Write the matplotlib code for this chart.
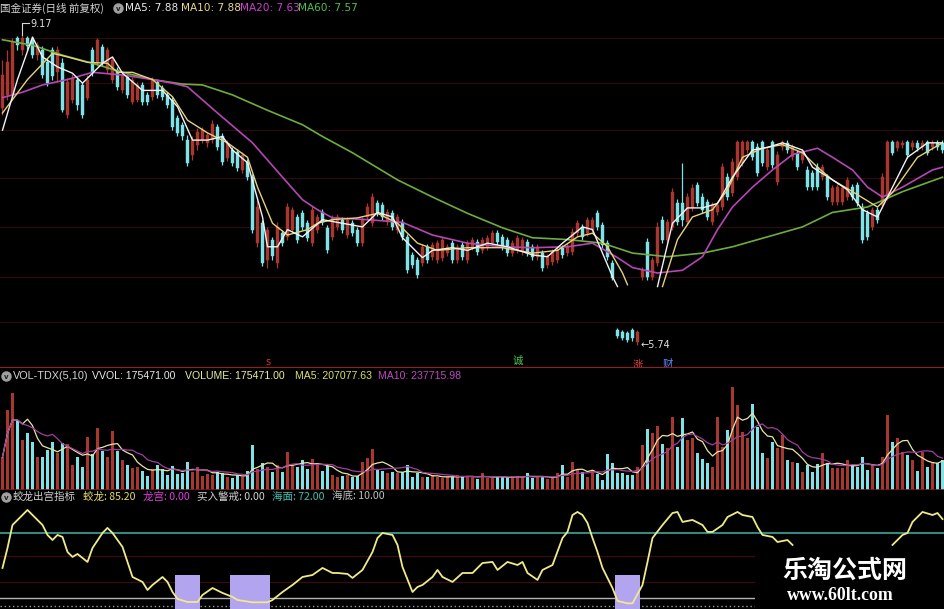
import numpy as np
import pandas as pd
import matplotlib
matplotlib.use("Agg")
import matplotlib.pyplot as plt
from matplotlib.patches import Rectangle
from matplotlib.lines import Line2D

plt.rcParams['font.family'] = ['Noto Sans CJK SC', 'DejaVu Sans']

# ---------------- data ----------------
opens = [
    8.37, 8.51, 8.51, 9.14, 9.01, 9.14, 9.12, 8.95, 9.01, 8.87,
    9.01, 8.76, 8.86, 8.29, 8.45, 8.68, 8.62, 8.48, 9.01, 8.86,
    9.04, 8.79, 8.68, 8.79, 8.56, 8.71, 8.43, 8.45, 8.62, 8.51,
    8.49, 8.65, 8.59, 8.51, 8.45, 8.25, 8.18, 8.01, 7.85, 7.96,
    8.01, 7.98, 8.01, 8.16, 8.05, 7.81, 7.90, 7.88, 7.68, 7.77,
    7.60, 6.87, 7.09, 6.68, 6.91, 6.65, 6.98, 6.94, 7.02, 7.16,
    7.20, 7.09, 6.87, 7.02, 7.21, 7.04, 6.94, 7.05, 7.13, 6.96,
    7.09, 7.02, 6.87, 7.16, 7.09, 7.31, 7.29, 7.10, 7.20, 7.02,
    7.10, 6.94, 6.74, 6.68, 6.65, 6.83, 6.72, 6.68, 6.71, 6.76,
    6.87, 6.68, 6.85, 6.68, 6.83, 6.88, 6.79, 6.83, 6.87, 6.98,
    6.94, 6.91, 6.76, 6.79, 6.77, 6.88, 6.83, 6.72, 6.76, 6.63,
    6.66, 6.68, 6.82, 6.76, 6.77, 6.98, 7.05, 6.98, 7.02, 7.20,
    7.07, 6.87, 6.65, 5.91, 5.89, 5.88, 5.91, 5.78, 6.50, 6.88,
    6.50, 6.65, 7.13, 6.91, 7.05, 7.31, 7.31, 7.10, 7.26, 7.51,
    7.38, 7.33, 7.10, 7.21, 7.27, 7.60, 7.43, 7.60, 7.76, 7.90,
    7.99, 7.93, 7.99, 7.71, 7.99, 7.55, 7.93, 7.98, 7.82, 7.87,
    7.79, 7.68, 7.65, 7.71, 7.60, 7.60, 7.33, 7.33, 7.33, 7.38,
    7.49, 7.51, 7.27, 7.20, 7.05, 7.24, 7.29, 7.38, 7.99, 7.92,
    7.96, 7.99, 7.93, 7.98, 7.93, 7.99, 7.93, 7.98, 7.98]
closes = [
    8.73, 8.87, 9.10, 9.06, 9.14, 9.05, 8.95, 9.06, 8.73, 8.64,
    8.72, 9.01, 8.34, 8.65, 8.70, 8.40, 8.29, 8.68, 8.75, 9.12,
    8.86, 9.01, 8.90, 8.60, 8.73, 8.51, 8.68, 8.62, 8.43, 8.43,
    8.68, 8.51, 8.49, 8.40, 8.16, 8.09, 8.05, 7.76, 8.01, 8.10,
    8.12, 8.07, 8.19, 7.93, 7.77, 7.98, 7.76, 7.70, 7.85, 7.60,
    7.02, 7.27, 6.65, 7.02, 6.73, 7.05, 6.87, 7.27, 7.24, 6.91,
    7.05, 6.93, 7.24, 7.16, 7.10, 6.79, 7.15, 7.16, 7.02, 7.13,
    6.98, 6.87, 7.13, 7.27, 7.38, 7.20, 7.16, 7.21, 7.05, 7.16,
    6.94, 6.57, 6.63, 6.52, 6.83, 6.68, 6.85, 6.87, 6.91, 6.83,
    6.68, 6.83, 6.72, 6.87, 6.91, 6.77, 6.91, 6.93, 6.98, 6.88,
    6.83, 6.76, 6.87, 6.93, 6.91, 6.76, 6.72, 6.83, 6.60, 6.72,
    6.77, 6.79, 6.74, 6.84, 6.99, 7.09, 6.94, 7.13, 7.13, 7.05,
    6.85, 6.72, 6.48, 5.84, 5.82, 5.80, 5.82, 5.89, 6.57, 6.50,
    6.68, 7.05, 6.91, 7.10, 7.44, 7.10, 7.13, 7.38, 7.48, 7.31,
    7.24, 7.16, 7.29, 7.29, 7.71, 7.38, 7.77, 7.99, 7.99, 7.99,
    7.82, 7.65, 7.76, 7.90, 7.73, 7.85, 7.99, 7.90, 7.93, 7.71,
    7.88, 7.49, 7.49, 7.49, 7.71, 7.38, 7.48, 7.49, 7.48, 7.57,
    7.38, 7.31, 6.91, 6.94, 7.24, 7.13, 7.60, 7.99, 7.87, 7.99,
    7.98, 7.85, 7.98, 7.92, 7.98, 7.87, 7.98, 7.93, 7.90]
highs = [
    8.90, 9.01, 9.14, 9.16, 9.17, 9.16, 9.15, 9.10, 9.05, 8.92,
    9.04, 9.05, 8.92, 8.70, 8.74, 8.72, 8.65, 8.73, 9.04, 9.14,
    9.07, 9.04, 8.93, 8.82, 8.76, 8.74, 8.71, 8.65, 8.65, 8.54,
    8.71, 8.68, 8.62, 8.54, 8.49, 8.29, 8.21, 8.07, 8.05, 8.14,
    8.16, 8.10, 8.23, 8.19, 8.09, 8.01, 7.93, 7.91, 7.88, 7.80,
    7.64, 7.35, 7.13, 7.05, 6.94, 7.10, 7.02, 7.31, 7.27, 7.19,
    7.24, 7.13, 7.28, 7.19, 7.25, 7.07, 7.18, 7.19, 7.16, 7.16,
    7.13, 7.05, 7.16, 7.31, 7.43, 7.35, 7.33, 7.25, 7.24, 7.19,
    7.14, 6.97, 6.77, 6.72, 6.86, 6.86, 6.88, 6.91, 6.94, 6.86,
    6.91, 6.86, 6.88, 6.91, 6.94, 6.92, 6.94, 6.96, 7.02, 7.02,
    6.97, 6.94, 6.91, 6.96, 6.94, 6.92, 6.86, 6.86, 6.79, 6.75,
    6.81, 6.83, 6.85, 6.87, 7.04, 7.13, 7.08, 7.16, 7.16, 7.24,
    7.10, 6.91, 6.68, 5.93, 5.91, 5.90, 5.93, 5.91, 6.61, 6.93,
    6.72, 7.10, 7.17, 7.14, 7.48, 7.36, 7.76, 7.43, 7.52, 7.55,
    7.42, 7.36, 7.33, 7.33, 7.76, 7.65, 7.81, 8.01, 8.01, 8.01,
    8.01, 7.98, 8.01, 7.93, 8.01, 7.89, 8.01, 8.01, 7.97, 7.90,
    7.91, 7.72, 7.68, 7.76, 7.75, 7.64, 7.51, 7.52, 7.51, 7.60,
    7.52, 7.55, 7.31, 7.24, 7.27, 7.27, 7.65, 8.01, 8.01, 8.01,
    8.01, 8.01, 8.01, 8.01, 8.01, 8.01, 8.01, 8.01, 8.01]
lows = [
    8.29, 8.45, 8.48, 9.01, 8.95, 9.01, 8.92, 8.90, 8.70, 8.61,
    8.68, 8.65, 8.32, 8.25, 8.42, 8.34, 8.25, 8.45, 8.72, 8.83,
    8.83, 8.75, 8.64, 8.56, 8.53, 8.48, 8.41, 8.43, 8.40, 8.40,
    8.45, 8.48, 8.45, 8.37, 8.12, 8.06, 8.01, 7.72, 7.79, 7.90,
    7.98, 7.93, 7.98, 7.90, 7.73, 7.78, 7.72, 7.67, 7.65, 7.57,
    6.98, 6.83, 6.62, 6.60, 6.68, 6.60, 6.84, 6.91, 6.98, 6.87,
    7.02, 6.89, 6.84, 6.98, 7.07, 6.76, 6.91, 7.02, 6.98, 6.93,
    6.95, 6.84, 6.84, 7.13, 7.06, 7.17, 7.13, 7.07, 7.02, 6.98,
    6.91, 6.54, 6.60, 6.48, 6.62, 6.65, 6.68, 6.65, 6.67, 6.73,
    6.65, 6.65, 6.68, 6.65, 6.79, 6.74, 6.76, 6.79, 6.84, 6.85,
    6.79, 6.73, 6.73, 6.76, 6.74, 6.73, 6.68, 6.68, 6.56, 6.60,
    6.63, 6.65, 6.71, 6.73, 6.74, 6.95, 6.91, 6.95, 6.98, 7.02,
    6.82, 6.68, 6.46, 5.82, 5.80, 5.78, 5.79, 5.74, 6.46, 6.46,
    6.46, 6.62, 6.87, 6.87, 7.02, 7.07, 7.06, 7.07, 7.23, 7.28,
    7.20, 7.13, 7.07, 7.18, 7.24, 7.35, 7.39, 7.57, 7.72, 7.87,
    7.79, 7.61, 7.72, 7.68, 7.70, 7.51, 7.90, 7.87, 7.79, 7.68,
    7.76, 7.46, 7.46, 7.46, 7.57, 7.35, 7.29, 7.29, 7.29, 7.35,
    7.35, 7.28, 6.87, 6.91, 7.02, 7.09, 7.26, 7.35, 7.84, 7.89,
    7.92, 7.81, 7.90, 7.89, 7.90, 7.84, 7.90, 7.90, 7.87]
# volume, in 10k lots (万手)
volumes = [
    19.3, 46.8, 56.7, 41.0, 29.3, 33.3, 28.1, 19.3, 19.3, 23.4,
    28.1, 21.6, 27.5, 26.9, 14.6, 19.3, 13.5, 31.0, 21.1, 36.3,
    22.8, 19.3, 34.5, 22.8, 17.6, 14.6, 12.9, 13.5, 11.1, 8.2,
    12.3, 14.6, 12.3, 8.8, 14.0, 9.4, 9.9, 16.4, 10.5, 13.5,
    8.2, 9.4, 8.8, 10.5, 9.9, 7.6, 7.0, 8.8, 7.6, 11.1,
    26.3, 12.3, 15.8, 13.5, 10.5, 14.6, 10.5, 22.2, 14.6, 13.5,
    17.6, 12.3, 18.1, 15.8, 11.1, 14.0, 8.8, 7.6, 8.2, 8.8,
    7.6, 8.2, 16.4, 18.7, 24.0, 11.7, 11.1, 9.9, 10.5, 9.9,
    10.5, 14.6, 7.6, 9.9, 7.6, 7.6, 8.8, 7.6, 7.0, 7.6,
    7.6, 8.8, 7.6, 8.2, 7.6, 6.4, 9.9, 7.0, 7.0, 7.6,
    7.6, 7.6, 7.6, 7.6, 7.6, 9.9, 7.0, 7.6, 7.6, 6.4,
    7.6, 9.9, 14.6, 7.6, 16.4, 11.7, 10.5, 7.6, 11.7, 9.4,
    5.9, 21.1, 15.8, 9.9, 9.9, 8.8, 8.8, 13.5, 26.3, 35.7,
    33.3, 37.4, 26.9, 24.6, 42.7, 25.2, 42.1, 29.3, 30.4, 21.6,
    18.1, 15.8, 13.5, 42.7, 25.2, 35.1, 60.3, 49.7, 33.9, 30.4,
    50.3, 36.9, 21.6, 18.7, 28.1, 24.6, 32.2, 17.6, 16.4, 15.8,
    10.5, 14.6, 10.5, 15.2, 21.6, 15.8, 12.9, 12.9, 12.9, 17.6,
    14.6, 13.5, 19.3, 11.7, 14.6, 12.9, 19.3, 43.9, 28.1, 30.4,
    22.2, 20.5, 17.6, 11.1, 22.2, 13.5, 15.8, 15.8, 17.5]

nan = float('nan')
ma5_days = [0, 3, 6, 8, 11, 14, 16, 20, 22, 24, 28, 32, 35, 38, 41, 44, 46, 49, 52, 53,
            55, 57, 60, 64, 68, 72, 75, 78, 80, 84, 86, 90, 93, 97, 101, 106, 109, 112, 116, 118,
            120, 122, 123, 124, 131, 134, 137, 140, 143, 146, 150, 153, 156, 160, 162, 166, 169, 172, 175, 178,
            181, 185, 188]
ma5 = [8.12, 8.68, 9.15, 8.93, 8.82, 8.75, 8.64, 8.86, 8.93, 8.75, 8.56, 8.56, 8.38, 8.01, 8.01, 8.05, 7.90, 7.76, 7.16, 6.83,
       6.83, 7.02, 6.94, 7.13, 7.09, 7.05, 7.21, 7.16, 6.93, 6.71, 6.79, 6.82, 6.79, 6.87, 6.83, 6.74, 6.72, 6.87, 7.05, 7.02,
       6.76, 6.50, 6.39, nan, 6.39, 7.09, 7.26, 7.26, 7.31, 7.60, 7.90, 7.93, 7.98, 7.90, 7.71, 7.57, 7.46, 7.24, 7.16, 7.49,
       7.82, 7.98, 7.98]
ma10_days = [0, 5, 10, 13, 17, 21, 23, 26, 30, 34, 37, 41, 45, 49, 51, 54, 57, 61, 63, 66,
             71, 75, 79, 83, 87, 93, 100, 106, 111, 115, 118, 121, 124, 125, 126, 132, 135, 138, 142, 145,
             148, 152, 156, 160, 163, 166, 170, 175, 178, 183, 188]
ma10 = [8.31, 8.68, 8.97, 8.93, 8.87, 8.86, 8.76, 8.76, 8.68, 8.49, 8.23, 8.09, 7.98, 7.82, 7.49, 7.09, 6.96, 7.02, 7.09, 7.13,
        7.15, 7.20, 7.09, 6.87, 6.79, 6.82, 6.82, 6.76, 6.79, 6.94, 6.98, 6.83, 6.54, 6.41, nan, 6.39, 6.91, 7.16, 7.24, 7.46,
        7.82, 7.92, 7.96, 7.87, 7.71, 7.57, 7.44, 7.27, 7.43, 7.82, 7.98]
ma20_days = [0, 4, 8, 13, 18, 24, 30, 34, 37, 43, 50, 56, 60, 63, 66, 73, 80, 86, 93, 100,
             106, 113, 118, 123, 126, 131, 136, 140, 143, 146, 150, 154, 158, 163, 166, 170, 173, 176, 180, 186,
             188]
ma20 = [8.48, 8.54, 8.62, 8.68, 8.76, 8.73, 8.68, 8.64, 8.60, 8.31, 7.98, 7.60, 7.35, 7.24, 7.15, 7.13, 7.10, 6.96, 6.87, 6.83,
        6.82, 6.83, 6.87, 6.71, 6.60, 6.54, 6.57, 6.72, 7.02, 7.27, 7.49, 7.68, 7.85, 7.92, 7.82, 7.68, 7.49, 7.38, 7.49, 7.68,
        7.71]
ma60_days = [0, 6, 12, 18, 24, 30, 36, 40, 46, 53, 60, 64, 70, 79, 86, 93, 100, 106, 113, 120,
             126, 133, 140, 146, 153, 160, 166, 173, 180, 188]
ma60 = [9.12, 9.06, 8.95, 8.86, 8.76, 8.68, 8.63, 8.62, 8.51, 8.34, 8.18, 8.05, 7.87, 7.57, 7.38, 7.20, 7.04, 6.93, 6.91, 6.87,
        6.76, 6.72, 6.76, 6.83, 6.94, 7.05, 7.21, 7.27, 7.44, 7.60]

# 蛟龙出宫指标
jl_days = [0, 1, 2, 4, 5, 6, 8, 9, 10, 11, 12, 13, 14, 15, 17, 18, 20, 21, 22, 24,
           25, 26, 28, 29, 30, 32, 33, 34, 35, 37, 39, 40, 42, 44, 46, 47, 50, 53, 54, 56,
           58, 60, 62, 64, 66, 67, 69, 70, 72, 74, 75, 76, 78, 79, 80, 82, 83, 84, 86, 87,
           88, 90, 92, 94, 96, 98, 99, 101, 103, 104, 105, 107, 108, 110, 112, 113, 114, 115, 116, 117,
           118, 119, 120, 122, 123, 125, 126, 128, 129, 130, 132, 134, 135, 136, 138, 140, 141, 142, 144, 145,
           147, 148, 150, 151, 152, 154, 155, 157, 158, 159, 178, 180, 181, 182, 184, 186, 187, 188]
jl_vals = [38.7, 57.7, 79.6, 89.1, 93.9, 89.1, 79.6, 70.1, 65.3, 70.1, 68.2, 53.9, 49.2, 52.0, 44.4, 57.7, 72.0, 76.8, 72.0, 58.7,
           44.4, 30.1, 25.4, 17.7, 22.5, 30.1, 25.4, 15.8, 9.2, 6.3, 6.3, 13.0, 19.6, 14.9, 11.1, 8.2, 6.0, 6.0, 8.2, 15.8,
           22.5, 30.1, 32.0, 38.7, 33.9, 33.9, 33.0, 29.2, 36.8, 53.9, 67.2, 72.0, 70.1, 60.6, 39.6, 15.8, 20.6, 22.5, 30.1, 36.8,
           30.1, 25.4, 33.9, 33.9, 43.4, 44.4, 36.8, 44.4, 41.5, 44.4, 33.9, 27.3, 36.8, 41.5, 67.2, 73.0, 89.1, 92.0, 89.1, 81.5,
           67.2, 53.9, 38.7, 19.6, 7.3, 5.0, 5.0, 22.5, 44.4, 67.2, 79.6, 91.0, 92.0, 82.5, 84.4, 79.6, 73.0, 73.0, 79.6, 87.2,
           92.0, 89.1, 87.2, 77.7, 70.1, 68.2, 63.4, 65.3, 60.6, nan, 60.6, 70.1, 72.0, 82.5, 92.0, 89.1, 91.0, 85.2]
lg_days = [35, 36, 37, 38, 39, 46, 47, 48, 49, 50, 51, 52, 53, 123, 124, 125, 126, 127]
lg_vals = [32, 32, 32, 32, 32, 32, 32, 32, 32, 32, 32, 32, 32, 32, 32, 32, 32, 32]
haimian = 72.0
haidi = 10.0
price_grid = [9.14, 8.64, 8.12, 7.59, 7.05, 6.50, 6.00]

# ---------------- figure ----------------
W, H = 945, 609
fig = plt.figure(figsize=(W / 100, H / 100), dpi=100, facecolor='black')


def fx(x):
    return x / W


def fy(y):
    return 1 - y / H


N = len(closes)
days = np.arange(N)
ax1 = fig.add_axes([0, fy(368), 1, 368 / H])
ax2 = fig.add_axes([0, fy(490), 1, 122 / H])
ax3 = fig.add_axes([0, 0, 1, 119 / H])
for ax in (ax1, ax2, ax3):
    ax.set_facecolor('black')
    ax.set_xlim(-0.5, N - 0.5)
    ax.set_xticks([])
    ax.set_yticks([])
    for s in ax.spines.values():
        s.set_visible(False)
ax1.set_ylim(5.489, 9.56)
ax2.set_ylim(0, 71.37)
ax3.set_ylim(-0.38, 112.9)

UP = '#a8382f'
DN = '#7fe2e6'
o = np.array(opens)
c = np.array(closes)
h = np.array(highs)
l = np.array(lows)
up = c >= o
cols = np.where(up, UP, DN)

# price panel
for g in price_grid:
    ax1.axhline(g, color='#300b0b', lw=0.8, zorder=1)
ax1.vlines(days, l, h, colors=cols, lw=0.9, zorder=3)
ax1.bar(days, np.maximum(np.abs(c - o), 0.012), bottom=np.minimum(o, c), width=0.7,
        color=cols, edgecolor=cols, lw=0.3, zorder=4)
ax1.plot(ma60_days, ma60, color='#6cae3c', lw=1.2, zorder=5)
ax1.plot(ma20_days, ma20, color='#b546b5', lw=1.2, zorder=5)
ax1.plot(ma10_days, ma10, color='#e6d27a', lw=1.0, zorder=6)
ax1.plot(ma5_days, ma5, color='#f2f2f2', lw=1.0, zorder=6)
ax1.plot([0, 1], [0, 0], transform=ax1.transAxes, color='#9a1c1c', lw=1.5, clip_on=False, zorder=7)

# high / low labels
ih = int(np.argmax(h))
il = int(np.argmin(l))
ax1.plot([ih, ih, ih + 1.4], [h[ih], h[ih] + 0.14, h[ih] + 0.14], color='#d8d8d8', lw=0.8, zorder=7)
ax1.text(ih + 1.6, h[ih] + 0.12, f"{h[ih]:.2f}", color='#e0e0e0', fontsize=7, va='center', ha='left',
         family=['DejaVu Sans'])
ax1.text(il + 0.6, l[il], "\u2190" + f"{l[il]:.2f}", color='#e0e0e0', fontsize=7, va='center', ha='left',
         family=['DejaVu Sans'])

# event markers at the bottom of the price panel
ax1.text(53, 5.56, "s", color='#d83030', fontsize=7, ha='center', va='center', family=['DejaVu Sans'])
ax1.text(103, 5.57, "诚", color='#50c850', fontsize=7.5, ha='center', va='center')
ax1.text(127, 5.52, "涨", color='#e04040', fontsize=7.5, ha='center', va='center')
ax1.text(133, 5.53, "财", color='#5a8cff', fontsize=7.5, ha='center', va='center')

# volume panel
v = np.array(volumes)
ax2.bar(days, v, width=0.62, color=cols, zorder=3)
vs = pd.Series(v)
ax2.plot(days, vs.rolling(5, min_periods=1).mean(), color='#ebe4a4', lw=0.9, zorder=4)
ax2.plot(days, vs.rolling(10, min_periods=1).mean(), color='#a03ea0', lw=0.9, zorder=4)
ax2.plot([0, 1], [0, 0], transform=ax2.transAxes, color='#7a1616', lw=1.2, clip_on=False, zorder=5)

# indicator panel
for g in (50, 25):
    ax3.axhline(g, color='#3a0d0d', lw=0.9, zorder=1)
ax3.axhline(haimian, color='#3fb7a8', lw=1.1, zorder=2)
ax3.axhline(haidi, color='#b4b4b4', lw=1.0, zorder=2)
ax3.axhline(2.5, color='#9a9a9a', lw=1.0, ls=(0, (1, 2)), zorder=2)
ax3.bar(lg_days, lg_vals, width=1.0, color='#b3a4f0', zorder=3)
ax3.plot(jl_days, jl_vals, color='#f0ea8a', lw=1.3, zorder=4)

# headers
def txt(x, y, s, color, family=None, size=7.6):
    kw = {}
    if family:
        kw['family'] = family
    fig.text(fx(x), fy(y), s, color=color, fontsize=size, ha='left', va='center', **kw)


def icon(x, y):
    fig.add_artist(Line2D([fx(x)], [fy(y)], marker='o', ms=6.5, color='#a0a0a0', transform=fig.transFigure))
    fig.text(fx(x), fy(y) - 0.001, "v", color='#202020', fontsize=5, ha='center', va='center',
             family=['DejaVu Sans'], weight='bold')


LAT = ['DejaVu Sans']
NAR = ['Liberation Sans', 'DejaVu Sans']
txt(0, 8, "国金证券(日线 前复权)", '#d2d2d2')
icon(118, 8)
txt(125, 8, "MA5: 7.88", '#e8e8e8', LAT)
txt(181, 8, "MA10: 7.88", '#e6da8a', LAT)
txt(240, 8, "MA20: 7.63", '#d03ed0', LAT)
txt(298, 8, "MA60: 7.57", '#4cc24c', LAT)

icon(6, 376)
txt(13, 376, "VOL-TDX(5,10)", '#d2d2d2', NAR, 7.8)
txt(92, 376, "VVOL: 175471.00", '#e8e8e8', NAR, 7.6)
txt(185, 376, "VOLUME: 175471.00", '#ecec9c', NAR, 7.6)
txt(295, 376, "MA5: 207077.63", '#dede66', NAR, 7.6)
txt(378, 376, "MA10: 237715.98", '#c048c0', NAR, 7.6)

icon(6, 497)
txt(13, 497, "蛟龙出宫指标", '#d2d2d2')
txt(83, 497, "蛟龙: 85.20", '#e6dc66')
txt(143, 497, "龙宫: 0.00", '#e040e0')
txt(197, 497, "买入警戒: 0.00", '#d2d2d2')
txt(272, 497, "海面: 72.00", '#3fc0b0')
txt(332, 497, "海底: 10.00", '#c0c0c0')

# watermark box
fig.add_artist(Rectangle((fx(755), 0), fx(945) - fx(755), fy(547), transform=fig.transFigure,
                         facecolor='black', edgecolor='none', zorder=10))
fig.text(fx(845), fy(571), "乐淘公式网", color='white', fontsize=18, weight='bold', ha='center', va='center',
         zorder=11)
fig.text(fx(840), fy(596), "www.60lt.com", color='white', fontsize=12.8, weight='bold', ha='center', va='center',
         family=['Liberation Serif', 'DejaVu Serif'], zorder=11)

fig.savefig('out.png', dpi=100, facecolor='black')
